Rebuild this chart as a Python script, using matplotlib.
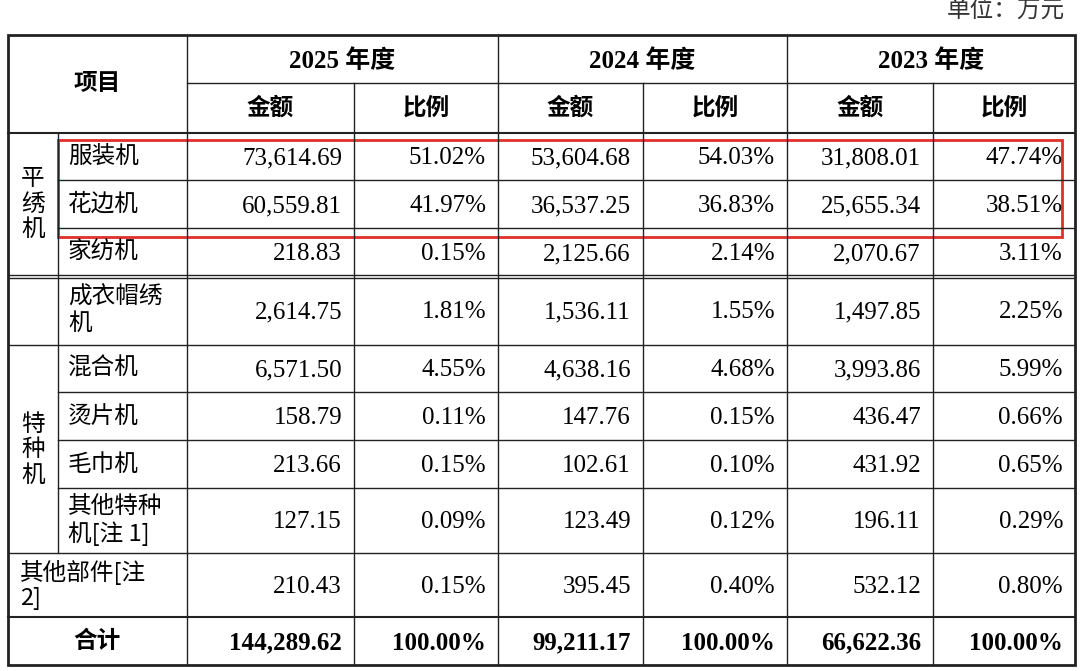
import matplotlib
matplotlib.use("Agg")
import matplotlib.pyplot as plt
from matplotlib.patches import Rectangle

years = ["2025 年度", "2024 年度", "2023 年度"]
sub_headers = ["金额", "比例"]
items = ["服装机", "花边机", "家纺机", "成衣帽绣\n机", "混合机", "烫片机", "毛巾机", "其他特种\n机[注 1]", "其他部件[注\n2]", "合计"]
amt_2025 = ["73,614.69", "60,559.81", "218.83", "2,614.75", "6,571.50", "158.79", "213.66", "127.15", "210.43", "144,289.62"]
pct_2025 = ["51.02%", "41.97%", "0.15%", "1.81%", "4.55%", "0.11%", "0.15%", "0.09%", "0.15%", "100.00%"]
amt_2024 = ["53,604.68", "36,537.25", "2,125.66", "1,536.11", "4,638.16", "147.76", "102.61", "123.49", "395.45", "99,211.17"]
pct_2024 = ["54.03%", "36.83%", "2.14%", "1.55%", "4.68%", "0.15%", "0.10%", "0.12%", "0.40%", "100.00%"]
amt_2023 = ["31,808.01", "25,655.34", "2,070.67", "1,497.85", "3,993.86", "436.47", "431.92", "196.11", "532.12", "66,622.36"]
pct_2023 = ["47.74%", "38.51%", "3.11%", "2.25%", "5.99%", "0.66%", "0.65%", "0.29%", "0.80%", "100.00%"]

fig = plt.figure(figsize=(10.8, 6.71), dpi=100)
ax = fig.add_axes([0, 0, 1, 1])
ax.set_xlim(0, 1080); ax.set_ylim(671, 0); ax.axis("off")
FAM = ["Liberation Serif", "Noto Sans CJK SC"]
CJK = ["Noto Sans CJK SC", "Liberation Serif"]
FS = 17
NFS = 18
lc = "#222222"

def hl(y, x0, x1, lw=1.0): ax.plot([x0, x1], [y, y], color=lc, lw=lw)
def vl(x, y0, y1, lw=1.0): ax.plot([x, x], [y0, y1], color=lc, lw=lw)

L, R, T, B = 8, 1075, 35, 665
xs = [187, 354, 498, 643, 787, 933, R]
rows = [133, 180, 228, 276, 345, 392, 440, 488, 553, 617, 665]

ax.add_patch(Rectangle((L, T), R - L, B - T, fill=False, ec=lc, lw=2))
hl(83, 187, R)
hl(133, L, R, 1.5)
for y in [180, 228]: hl(y, 58, R)
hl(275, L, R, 1); hl(278, L, R, 1)
hl(345, L, R)
for y in [392, 440, 488]: hl(y, 58, R)
hl(553, L, R); hl(617, L, R, 1.5)
vl(187, T, B)
for x in [498, 787]: vl(x, T, B)
for x in [354, 643, 933]: vl(x, 83, B)
vl(58, 133, 553)

ax.text(1065, 10, "单位：万元", ha="right", va="center", fontsize=FS, family=CJK, color="#333")
ax.text(97, 83, "项目", ha="center", va="center", fontsize=FS, family=CJK, weight="bold")
for i, y in enumerate(years):
    cx = (xs[2 * i] + xs[2 * i + 2]) / 2
    ax.text(cx, 61, y, ha="center", va="center", fontsize=NFS, family=FAM, weight="bold")
    for j, s in enumerate(sub_headers):
        c = (xs[2 * i + j] + xs[2 * i + j + 1]) / 2
        ax.text(c, 108, s, ha="center", va="center", fontsize=FS, family=CJK, weight="bold")

ax.text(33, 204, "平\n绣\n机", ha="center", va="center", fontsize=FS, family=CJK, linespacing=1.15)
ax.text(33, 450, "特\n种\n机", ha="center", va="center", fontsize=FS, family=CJK, linespacing=1.15)

cols = [amt_2025, pct_2025, amt_2024, pct_2024, amt_2023, pct_2023]
for r, name in enumerate(items):
    y0, y1 = rows[r], rows[r + 1]
    cy = (y0 + y1) / 2
    bold = (name == "合计")
    if name == "合计":
        ax.text(97, cy, name, ha="center", va="center", fontsize=FS, family=CJK, weight="bold")
    elif name.startswith("其他部件"):
        ax.text(20, cy, name, ha="left", va="center", fontsize=FS, family=CJK, linespacing=1.15)
    else:
        ax.text(68, cy, name, ha="left", va="center", fontsize=FS, family=CJK, linespacing=1.15)
    for k, col in enumerate(cols):
        ax.text(xs[k + 1] - 12, cy + 2, col[r], ha="right", va="center", fontsize=NFS,
                family=FAM, weight="bold" if bold else "normal")

ax.add_patch(Rectangle((58, 140), 1004, 97, fill=False, ec="#e0302a", lw=2))
fig.savefig("out.png", dpi=100)
